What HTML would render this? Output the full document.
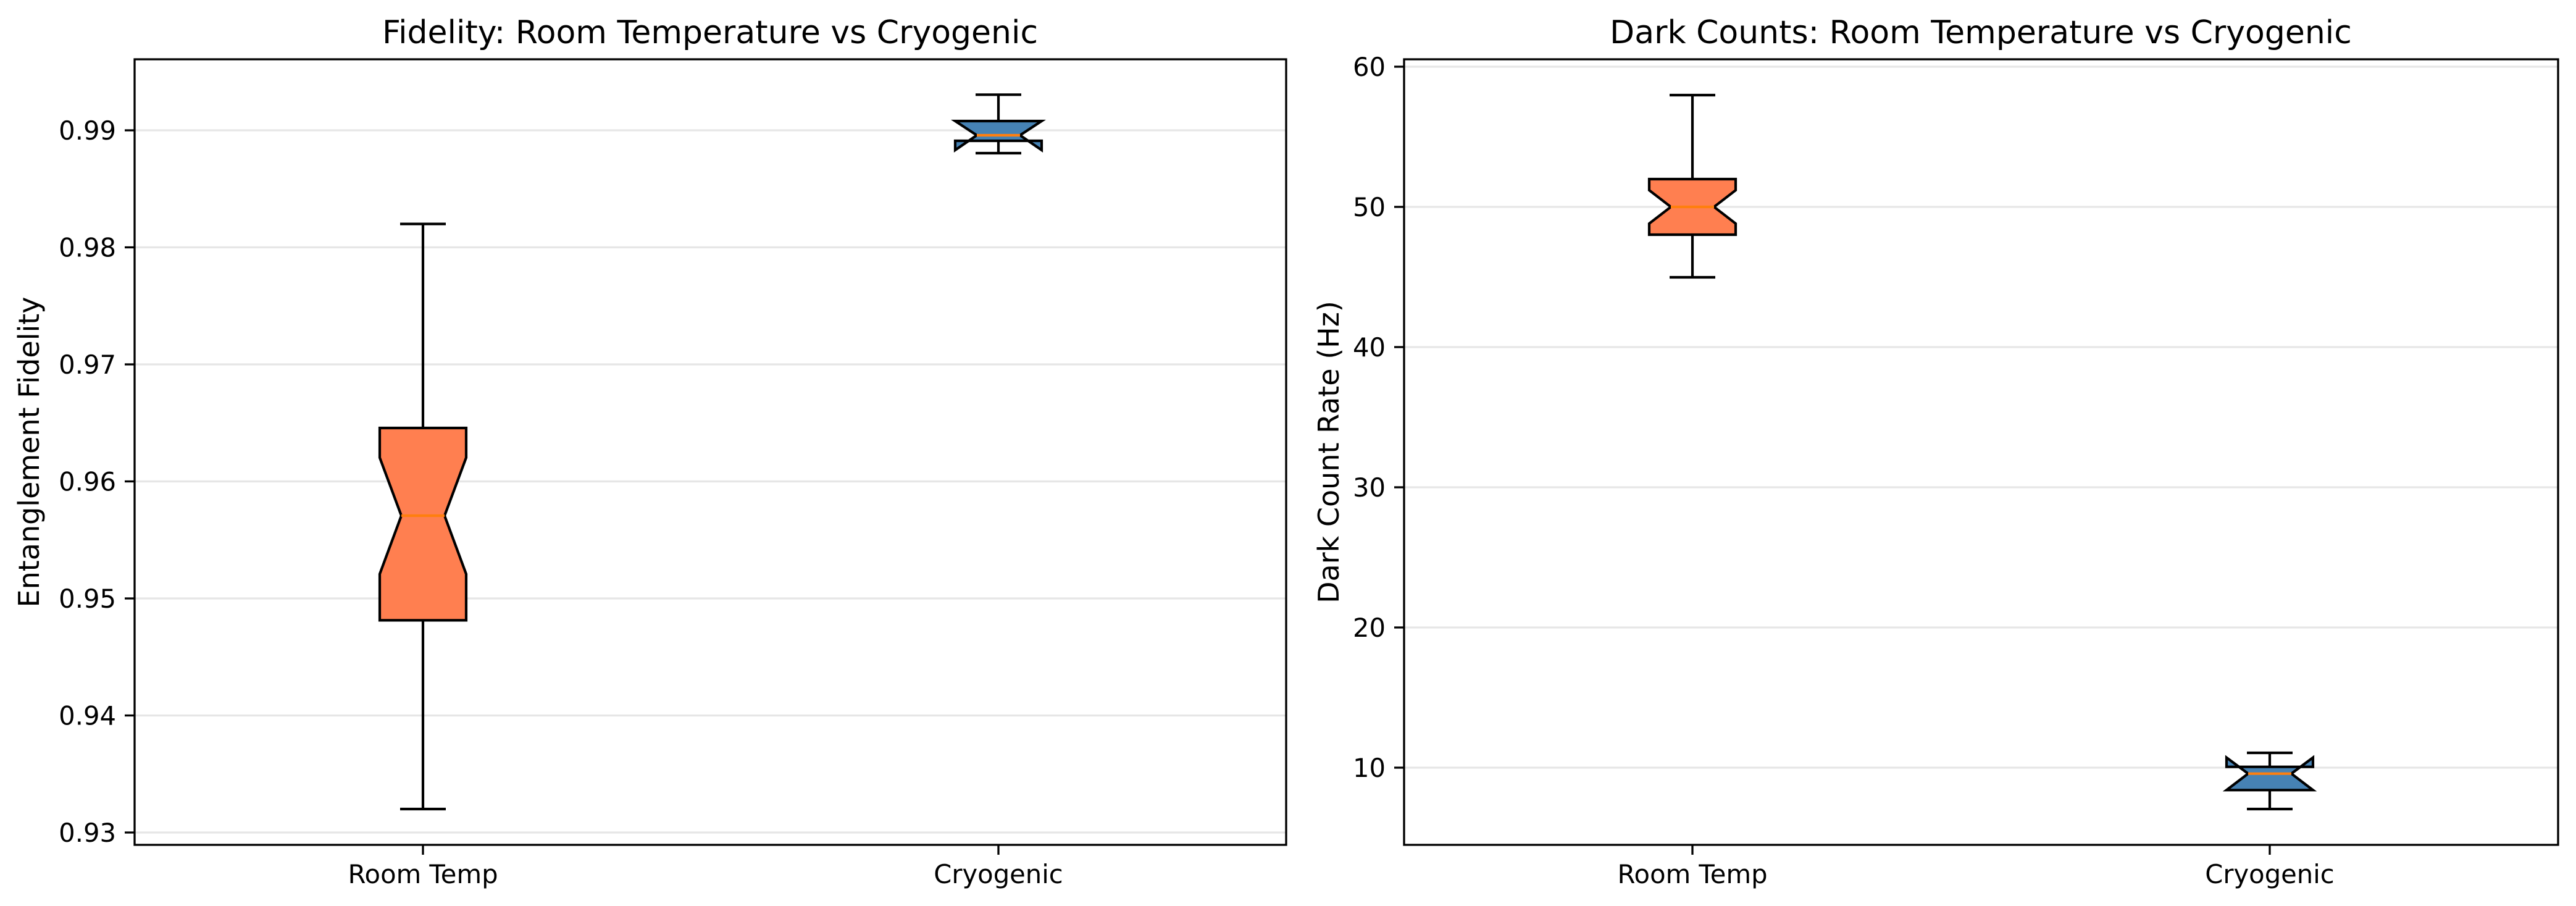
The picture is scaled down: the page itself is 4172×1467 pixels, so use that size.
<!DOCTYPE html>
<html><head><meta charset="utf-8"><style>html,body{margin:0;padding:0;background:#fff}svg{display:block}text{font-family:"DejaVu Sans","Liberation Sans",sans-serif;fill:#000}</style></head>
<body>
<svg width="4172" height="1467" viewBox="0 0 4172 1467" xmlns="http://www.w3.org/2000/svg">
<rect width="4172" height="1467" fill="#fff"/>
<!-- LEFT PANEL -->
<g stroke="#e6e6e6" stroke-width="3.3">
<line x1="218" x2="2083" y1="1348" y2="1348"/><line x1="218" x2="2083" y1="1158.5" y2="1158.5"/><line x1="218" x2="2083" y1="969" y2="969"/><line x1="218" x2="2083" y1="779.5" y2="779.5"/><line x1="218" x2="2083" y1="590" y2="590"/><line x1="218" x2="2083" y1="400.5" y2="400.5"/><line x1="218" x2="2083" y1="211" y2="211"/>
</g>
<g stroke="#000" stroke-width="4.2" fill="none">
<line x1="685" x2="685" y1="693" y2="362.6"/><line x1="648" x2="722" y1="362.6" y2="362.6"/>
<line x1="685" x2="685" y1="1004.4" y2="1310"/><line x1="648" x2="722" y1="1310" y2="1310"/>
<path d="M615 1004.4 L615 929.5 L650 835 L615 741 L615 693 L755 693 L755 741 L720 835 L755 929.5 L755 1004.4 Z" fill="#FF7F50"/>
<line x1="1617" x2="1617" y1="196" y2="153.3"/><line x1="1580" x2="1654" y1="153.3" y2="153.3"/>
<line x1="1617" x2="1617" y1="228" y2="248"/><line x1="1580" x2="1654" y1="248" y2="248"/>
<path d="M1547 228 L1547 243 L1582 219 L1547 196 L1687 196 L1652 219 L1687 243 L1687 228 Z" fill="#4682B4" stroke-linejoin="miter"/>
</g>
<line x1="650" x2="720" y1="835" y2="835" stroke="#ff7f0e" stroke-width="4.2"/>
<line x1="1582" x2="1652" y1="219" y2="219" stroke="#ff7f0e" stroke-width="4.2"/>
<rect x="218" y="96" width="1865" height="1272" fill="none" stroke="#000" stroke-width="3.3"/>
<g stroke="#000" stroke-width="3.3">
<line x1="202" x2="218" y1="1348" y2="1348"/><line x1="202" x2="218" y1="1158.5" y2="1158.5"/><line x1="202" x2="218" y1="969" y2="969"/><line x1="202" x2="218" y1="779.5" y2="779.5"/><line x1="202" x2="218" y1="590" y2="590"/><line x1="202" x2="218" y1="400.5" y2="400.5"/><line x1="202" x2="218" y1="211" y2="211"/>
<line x1="685" x2="685" y1="1368" y2="1384"/><line x1="1617" x2="1617" y1="1368" y2="1384"/>
</g>
<g font-size="41.7" text-anchor="end">
<text x="188" y="1363">0.93</text><text x="188" y="1173.5">0.94</text><text x="188" y="984">0.95</text><text x="188" y="794.5">0.96</text><text x="188" y="605">0.97</text><text x="188" y="415.5">0.98</text><text x="188" y="226">0.99</text>
</g>
<g font-size="41.7" text-anchor="middle">
<text x="685" y="1430">Room Temp</text><text x="1617" y="1430">Cryogenic</text>
</g>
<text x="1150" y="70" font-size="52" text-anchor="middle">Fidelity: Room Temperature vs Cryogenic</text>
<text transform="translate(63,732) rotate(-90)" font-size="46" text-anchor="middle">Entanglement Fidelity</text>

<!-- RIGHT PANEL -->
<g stroke="#e6e6e6" stroke-width="3.3">
<line x1="2274" x2="4143" y1="1243" y2="1243"/><line x1="2274" x2="4143" y1="1016" y2="1016"/><line x1="2274" x2="4143" y1="789" y2="789"/><line x1="2274" x2="4143" y1="562" y2="562"/><line x1="2274" x2="4143" y1="335" y2="335"/><line x1="2274" x2="4143" y1="108" y2="108"/>
</g>
<g stroke="#000" stroke-width="4.2" fill="none">
<line x1="2741" x2="2741" y1="290" y2="154"/><line x1="2704" x2="2778" y1="154" y2="154"/>
<line x1="2741" x2="2741" y1="380" y2="449"/><line x1="2704" x2="2778" y1="449" y2="449"/>
<path d="M2671 380 L2671 362 L2706 335 L2671 308 L2671 290 L2811 290 L2811 308 L2776 335 L2811 362 L2811 380 Z" fill="#FF7F50"/>
<line x1="3676" x2="3676" y1="1241.7" y2="1219"/><line x1="3639" x2="3713" y1="1219" y2="1219"/>
<line x1="3676" x2="3676" y1="1279.3" y2="1310"/><line x1="3639" x2="3713" y1="1310" y2="1310"/>
<path d="M3606 1279.3 L3641 1252.7 L3606 1226.7 L3606 1241.7 L3746 1241.7 L3746 1226.7 L3711 1252.7 L3746 1279.3 Z" fill="#4682B4"/>
</g>
<line x1="2706" x2="2776" y1="335" y2="335" stroke="#ff7f0e" stroke-width="4.2"/>
<line x1="3641" x2="3711" y1="1252.7" y2="1252.7" stroke="#ff7f0e" stroke-width="4.2"/>
<rect x="2274" y="96" width="1869" height="1272" fill="none" stroke="#000" stroke-width="3.3"/>
<g stroke="#000" stroke-width="3.3">
<line x1="2258" x2="2274" y1="1243" y2="1243"/><line x1="2258" x2="2274" y1="1016" y2="1016"/><line x1="2258" x2="2274" y1="789" y2="789"/><line x1="2258" x2="2274" y1="562" y2="562"/><line x1="2258" x2="2274" y1="335" y2="335"/><line x1="2258" x2="2274" y1="108" y2="108"/>
<line x1="2741" x2="2741" y1="1368" y2="1384"/><line x1="3676" x2="3676" y1="1368" y2="1384"/>
</g>
<g font-size="41.7" text-anchor="end">
<text x="2244" y="1258">10</text><text x="2244" y="1031">20</text><text x="2244" y="804">30</text><text x="2244" y="577">40</text><text x="2244" y="350">50</text><text x="2244" y="123">60</text>
</g>
<g font-size="41.7" text-anchor="middle">
<text x="2741" y="1430">Room Temp</text><text x="3676" y="1430">Cryogenic</text>
</g>
<text x="3208" y="70" font-size="52" text-anchor="middle">Dark Counts: Room Temperature vs Cryogenic</text>
<text transform="translate(2168,732) rotate(-90)" font-size="46" text-anchor="middle">Dark Count Rate (Hz)</text>
</svg>
</body></html>
